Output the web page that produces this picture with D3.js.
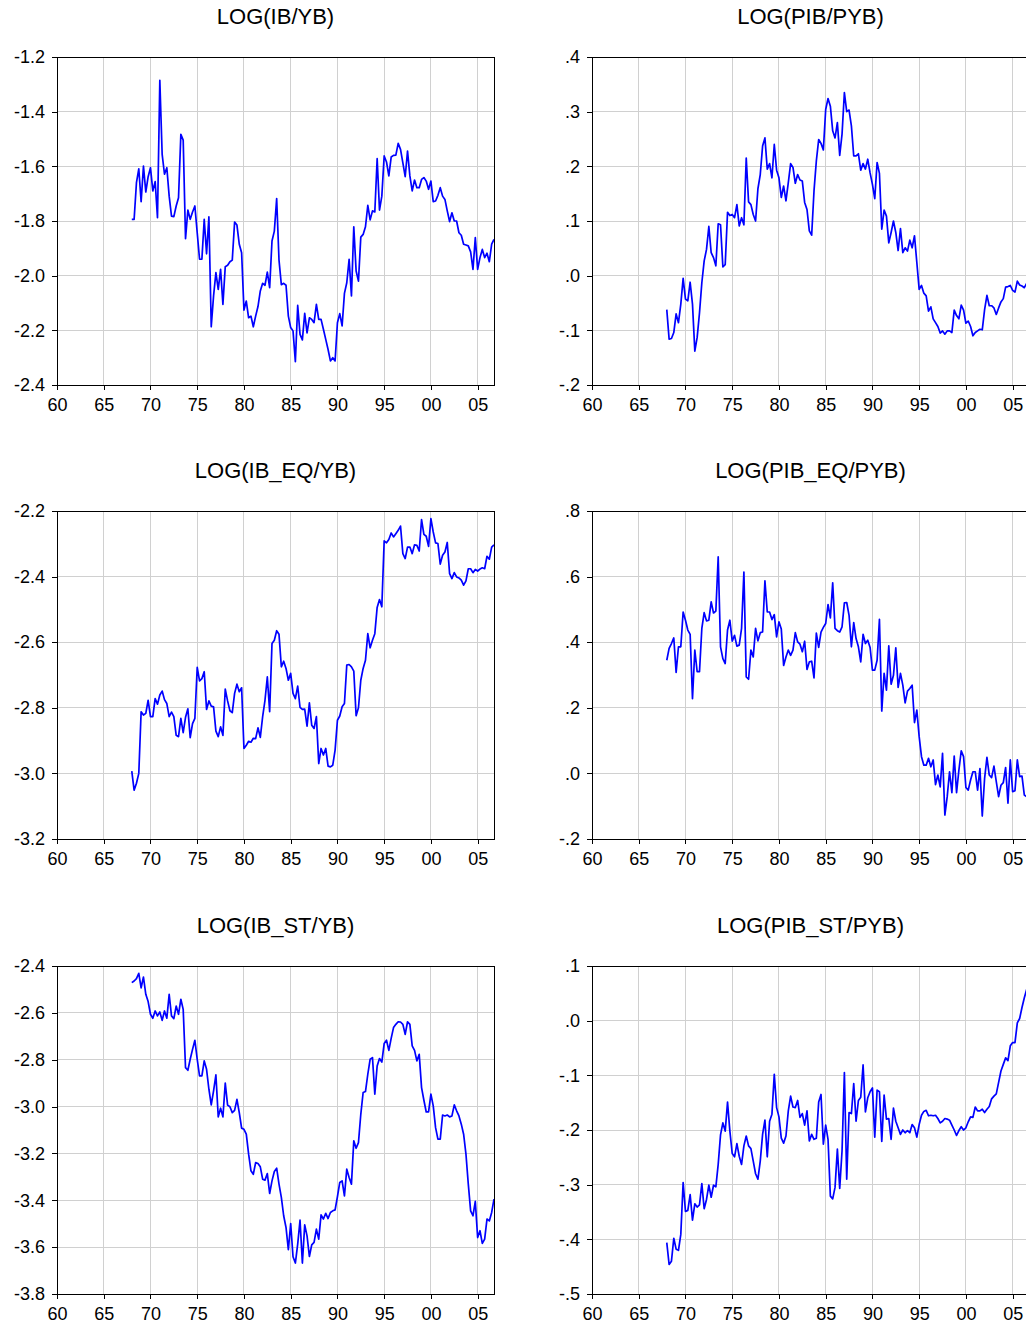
<!DOCTYPE html>
<html>
<head>
<meta charset="utf-8">
<script src="https://cdn.jsdelivr.net/npm/d3@7"></script>
<style>
    body { margin: 0; background: #fff; }
    text { font-family: "Liberation Sans", Arial, sans-serif; fill: #000; }
    .grid line { stroke: #d0d0d0; stroke-width: 1; shape-rendering: crispEdges; }
    .frame { fill: none; stroke: #000; stroke-width: 1; shape-rendering: crispEdges; }
    .axis line { stroke: #000; shape-rendering: crispEdges; }
    .line { fill: none; stroke: #0000ff; stroke-width: 1.7; stroke-linejoin: round; }
</style>
</head>
<body>
<div id="chart"></div>
<script>
// quarterly series, 1968Q1 .. 2006Q4
const startYear = 1968;
const xTicks = [1960, 1965, 1970, 1975, 1980, 1985, 1990, 1995, 2000, 2005];

const ib = [-1.794,-1.794,-1.660,-1.609,-1.729,-1.599,-1.694,-1.638,-1.605,-1.690,-1.656,-1.788,-1.285,-1.556,-1.629,-1.605,-1.709,-1.782,-1.784,-1.745,-1.715,-1.483,-1.504,-1.865,-1.760,-1.794,-1.767,-1.745,-1.843,-1.940,-1.940,-1.794,-1.920,-1.785,-2.187,-2.074,-1.989,-2.050,-1.977,-2.105,-1.967,-1.962,-1.949,-1.943,-1.804,-1.815,-1.885,-1.916,-2.126,-2.093,-2.154,-2.148,-2.187,-2.148,-2.113,-2.056,-2.028,-2.035,-1.987,-2.044,-1.873,-1.837,-1.718,-1.943,-2.033,-2.028,-2.035,-2.148,-2.190,-2.202,-2.315,-2.109,-2.215,-2.235,-2.138,-2.209,-2.154,-2.160,-2.172,
    -2.105,-2.160,-2.160,-2.196,-2.233,-2.270,-2.312,-2.300,-2.312,-2.172,-2.139,-2.184,-2.065,-2.026,-1.940,-2.074,-1.821,-1.983,-2.020,-1.859,-1.849,-1.821,-1.743,-1.796,-1.763,-1.767,-1.572,-1.760,-1.709,-1.562,-1.584,-1.635,-1.566,-1.560,-1.559,-1.516,-1.538,-1.587,-1.638,-1.544,-1.635,-1.690,-1.650,-1.678,-1.678,-1.648,-1.641,-1.654,-1.684,-1.654,-1.729,-1.727,-1.706,-1.678,-1.709,-1.721,-1.763,-1.802,-1.770,-1.800,-1.800,-1.843,-1.852,-1.885,-1.888,-1.891,-1.913,-1.977,-1.861,-1.977,-1.934,-1.904,-1.934,-1.918,-1.949,-1.885,-1.867];

const pib = [-0.062,-0.116,-0.115,-0.104,-0.070,-0.086,-0.052,-0.005,-0.043,-0.046,-0.012,-0.052,-0.138,-0.113,-0.068,-0.013,0.027,0.048,0.090,0.042,0.033,0.018,0.095,0.093,0.016,0.020,0.116,0.110,0.112,0.106,0.130,0.091,0.106,0.093,0.215,0.135,0.130,0.112,0.100,0.159,0.185,0.237,0.252,0.195,0.205,0.179,0.240,0.193,0.179,0.143,0.164,0.137,0.170,0.205,0.198,0.169,0.185,0.175,0.173,0.134,0.121,0.082,0.074,0.155,0.210,0.249,0.242,0.230,0.304,0.324,0.310,0.265,0.252,0.280,0.220,0.259,0.335,0.300,0.303,
    0.274,0.219,0.219,0.223,0.193,0.205,0.195,0.213,0.188,0.167,0.141,0.207,0.187,0.085,0.120,0.109,0.060,0.079,0.100,0.079,0.046,0.086,0.042,0.051,0.045,0.065,0.051,0.073,0.024,-0.025,-0.018,-0.032,-0.037,-0.065,-0.057,-0.079,-0.086,-0.093,-0.105,-0.101,-0.107,-0.101,-0.101,-0.104,-0.063,-0.073,-0.079,-0.054,-0.063,-0.087,-0.083,-0.093,-0.110,-0.104,-0.101,-0.098,-0.099,-0.062,-0.036,-0.055,-0.055,-0.059,-0.071,-0.059,-0.048,-0.042,-0.021,-0.020,-0.018,-0.027,-0.030,-0.010,-0.017,-0.019,-0.022,-0.014,-0.013];

const ibEq = [-2.993,-3.051,-3.030,-3.000,-2.812,-2.822,-2.817,-2.777,-2.827,-2.827,-2.772,-2.789,-2.761,-2.749,-2.775,-2.787,-2.827,-2.813,-2.827,-2.884,-2.888,-2.832,-2.876,-2.829,-2.803,-2.891,-2.848,-2.832,-2.677,-2.718,-2.711,-2.690,-2.805,-2.779,-2.795,-2.797,-2.871,-2.888,-2.858,-2.884,-2.743,-2.779,-2.809,-2.815,-2.756,-2.728,-2.751,-2.739,-2.924,-2.914,-2.902,-2.905,-2.893,-2.894,-2.861,-2.890,-2.827,-2.777,-2.706,-2.812,-2.604,-2.594,-2.565,-2.576,-2.675,-2.658,-2.680,-2.716,-2.695,-2.756,-2.772,-2.734,-2.799,-2.805,-2.804,-2.856,-2.785,-2.853,-2.863,
    -2.827,-2.970,-2.924,-2.944,-2.924,-2.978,-2.980,-2.975,-2.929,-2.838,-2.825,-2.797,-2.787,-2.670,-2.668,-2.675,-2.688,-2.824,-2.800,-2.716,-2.680,-2.655,-2.574,-2.617,-2.594,-2.574,-2.494,-2.470,-2.492,-2.291,-2.297,-2.287,-2.267,-2.279,-2.269,-2.259,-2.246,-2.330,-2.345,-2.310,-2.310,-2.330,-2.303,-2.305,-2.322,-2.226,-2.271,-2.277,-2.308,-2.223,-2.264,-2.297,-2.299,-2.362,-2.335,-2.325,-2.296,-2.391,-2.406,-2.388,-2.401,-2.404,-2.411,-2.426,-2.413,-2.376,-2.376,-2.388,-2.378,-2.383,-2.377,-2.373,-2.376,-2.338,-2.347,-2.310,-2.303];

const pibEq = [0.345,0.381,0.396,0.413,0.308,0.386,0.386,0.492,0.467,0.437,0.424,0.228,0.376,0.310,0.310,0.442,0.490,0.465,0.467,0.523,0.489,0.495,0.660,0.386,0.350,0.335,0.437,0.467,0.403,0.421,0.388,0.391,0.442,0.614,0.294,0.287,0.376,0.355,0.442,0.404,0.429,0.431,0.587,0.492,0.492,0.469,0.484,0.416,0.462,0.440,0.329,0.355,0.376,0.360,0.376,0.429,0.401,0.394,0.371,0.403,0.317,0.340,0.342,0.291,0.428,0.384,0.431,0.445,0.457,0.515,0.474,0.581,0.442,0.435,0.431,0.447,0.520,0.521,0.482,
    0.386,0.460,0.411,0.386,0.340,0.424,0.396,0.406,0.384,0.315,0.315,0.345,0.470,0.190,0.305,0.254,0.389,0.272,0.299,0.383,0.262,0.305,0.269,0.215,0.251,0.259,0.269,0.155,0.193,0.112,0.051,0.025,0.025,0.046,0.020,0.041,-0.034,-0.005,-0.041,0.061,-0.127,-0.071,0.005,-0.059,0.053,-0.059,0.010,0.069,0.051,-0.043,-0.051,-0.020,0.005,0.005,-0.051,0.015,-0.130,-0.015,0.049,-0.005,-0.013,0.022,-0.025,-0.071,-0.036,-0.028,0.018,-0.091,0.041,-0.056,-0.053,0.041,-0.010,-0.008,-0.066,-0.071,-0.081];

const ibSt = [-2.471,-2.464,-2.454,-2.431,-2.493,-2.447,-2.521,-2.552,-2.606,-2.623,-2.592,-2.613,-2.596,-2.632,-2.592,-2.623,-2.521,-2.613,-2.625,-2.571,-2.606,-2.542,-2.585,-2.834,-2.845,-2.798,-2.756,-2.717,-2.798,-2.869,-2.869,-2.805,-2.841,-2.926,-2.993,-2.933,-2.865,-3.044,-3.007,-3.044,-2.900,-2.994,-3.001,-3.026,-3.016,-2.969,-3.026,-3.092,-3.097,-3.118,-3.203,-3.274,-3.289,-3.239,-3.243,-3.257,-3.310,-3.314,-3.286,-3.371,-3.317,-3.277,-3.263,-3.331,-3.388,-3.466,-3.516,-3.611,-3.499,-3.641,-3.668,-3.587,-3.485,-3.668,-3.505,-3.552,-3.640,-3.590,-3.580,
    -3.523,-3.566,-3.462,-3.480,-3.456,-3.478,-3.452,-3.445,-3.441,-3.385,-3.324,-3.317,-3.381,-3.267,-3.303,-3.331,-3.146,-3.178,-3.154,-3.033,-2.940,-2.936,-2.862,-2.798,-2.791,-2.947,-2.827,-2.795,-2.810,-2.731,-2.717,-2.760,-2.709,-2.663,-2.649,-2.638,-2.639,-2.649,-2.692,-2.638,-2.649,-2.741,-2.760,-2.805,-2.777,-2.919,-2.973,-3.023,-3.023,-2.947,-2.997,-3.090,-3.139,-3.139,-3.036,-3.040,-3.036,-3.044,-3.040,-2.993,-3.018,-3.040,-3.075,-3.118,-3.203,-3.331,-3.445,-3.466,-3.405,-3.559,-3.530,-3.584,-3.566,-3.480,-3.488,-3.452,-3.395];

const pibSt = [-0.406,-0.446,-0.440,-0.398,-0.418,-0.420,-0.391,-0.296,-0.349,-0.347,-0.318,-0.365,-0.335,-0.341,-0.337,-0.298,-0.344,-0.327,-0.301,-0.323,-0.301,-0.304,-0.263,-0.209,-0.187,-0.202,-0.149,-0.202,-0.243,-0.249,-0.225,-0.248,-0.263,-0.229,-0.211,-0.229,-0.234,-0.257,-0.280,-0.290,-0.257,-0.208,-0.182,-0.249,-0.184,-0.171,-0.098,-0.159,-0.176,-0.215,-0.224,-0.211,-0.165,-0.138,-0.158,-0.159,-0.146,-0.177,-0.170,-0.191,-0.165,-0.220,-0.208,-0.217,-0.215,-0.149,-0.135,-0.226,-0.191,-0.217,-0.321,-0.326,-0.305,-0.235,-0.307,-0.238,-0.095,-0.290,-0.168,
    -0.170,-0.115,-0.184,-0.146,-0.140,-0.081,-0.167,-0.141,-0.130,-0.123,-0.213,-0.127,-0.130,-0.221,-0.136,-0.180,-0.179,-0.217,-0.160,-0.184,-0.196,-0.208,-0.200,-0.205,-0.201,-0.205,-0.190,-0.196,-0.213,-0.190,-0.173,-0.166,-0.164,-0.174,-0.173,-0.174,-0.173,-0.179,-0.187,-0.184,-0.179,-0.180,-0.182,-0.191,-0.200,-0.210,-0.201,-0.194,-0.200,-0.196,-0.185,-0.176,-0.177,-0.158,-0.165,-0.165,-0.162,-0.168,-0.162,-0.157,-0.143,-0.138,-0.134,-0.113,-0.092,-0.080,-0.068,-0.073,-0.046,-0.040,-0.040,-0.004,0.004,0.024,0.042,0.057,0.070];

const titles = ['LOG(IB/YB)', 'LOG(PIB/PYB)', 'LOG(IB_EQ/YB)', 'LOG(PIB_EQ/PYB)', 'LOG(IB_ST/YB)', 'LOG(PIB_ST/PYB)'];
const yDomains = [[-2.4, -1.2], [-0.2, 0.4], [-3.2, -2.2], [-0.2, 0.8], [-3.8, -2.4], [-0.5, 0.1]];
const yTicks = [
    [-1.2, -1.4, -1.6, -1.8, -2.0, -2.2, -2.4],
    [0.4, 0.3, 0.2, 0.1, 0.0, -0.1, -0.2],
    [-2.2, -2.4, -2.6, -2.8, -3.0, -3.2],
    [0.8, 0.6, 0.4, 0.2, 0.0, -0.2],
    [-2.4, -2.6, -2.8, -3.0, -3.2, -3.4, -3.6, -3.8],
    [0.1, 0.0, -0.1, -0.2, -0.3, -0.4, -0.5]
];
const series = [ib, pib, ibEq, pibEq, ibSt, pibSt];

const width = 1026;
const height = 1327;
const graphWidth = 437;
const graphHeight = 328;
const colLeft = [57, 592];
const rowTop = [57, 511, 966];

const svg = d3.select('#chart')
    .append('svg')
    .attr('width', width)
    .attr('height', height);

// EViews style labels: plain hyphen, no leading zero, one decimal
const fmtY = d => {
    const s = Math.abs(d) < 1e-9 ? '0.0' : d.toFixed(1);
    return s.replace(/^(-?)0\./, '$1.');
};
const fmtX = d => String(d).slice(2);

const x = d3.scaleLinear()
    .domain([1960, 2006.75])
    .range([0, graphWidth]);

series.forEach((data, i) => {
    const col = i % 2;
    const row = Math.floor(i / 2);

    const chart = svg.append('g')
        .attr('transform', `translate(${colLeft[col]}, ${rowTop[row]})`);

    const y = d3.scaleLinear()
        .domain(yDomains[i])
        .range([graphHeight, 0]);

    // grid
    const grid = chart.append('g').attr('class', 'grid');
    grid.selectAll('.gx')
        .data(xTicks)
        .enter()
        .append('line')
        .attr('x1', d => x(d)).attr('x2', d => x(d))
        .attr('y1', 0).attr('y2', graphHeight);
    grid.selectAll('.gy')
        .data(yTicks[i])
        .enter()
        .append('line')
        .attr('x1', 0).attr('x2', graphWidth)
        .attr('y1', d => y(d)).attr('y2', d => y(d));

    // axes
    const xAxis = d3.axisBottom(x)
        .tickValues(xTicks)
        .tickFormat(fmtX)
        .tickSize(5)
        .tickPadding(8);

    const yAxis = d3.axisLeft(y)
        .tickValues(yTicks[i])
        .tickFormat(fmtY)
        .tickSize(5)
        .tickPadding(7);

    const xAxisGroup = chart.append('g')
        .attr('class', 'axis')
        .attr('transform', `translate(0, ${graphHeight})`)
        .call(xAxis);
    const yAxisGroup = chart.append('g')
        .attr('class', 'axis')
        .call(yAxis);

    [xAxisGroup, yAxisGroup].forEach(g => {
        g.select('.domain').remove();
        g.selectAll('text')
            .style('font-family', '"Liberation Sans", Arial, sans-serif')
            .style('font-size', '18px');
    });

    // series line
    const line = d3.line()
        .x((d, j) => x(startYear + j / 4))
        .y(d => y(d));

    chart.append('path')
        .datum(data)
        .attr('class', 'line')
        .attr('d', line);

    // frame
    chart.append('rect')
        .attr('class', 'frame')
        .attr('x', 0)
        .attr('y', 0)
        .attr('width', graphWidth)
        .attr('height', graphHeight);

    // title
    chart.append('text')
        .attr('x', graphWidth / 2)
        .attr('y', -33)
        .attr('text-anchor', 'middle')
        .style('font-size', '22px')
        .text(titles[i]);
});
</script>
</body>
</html>
